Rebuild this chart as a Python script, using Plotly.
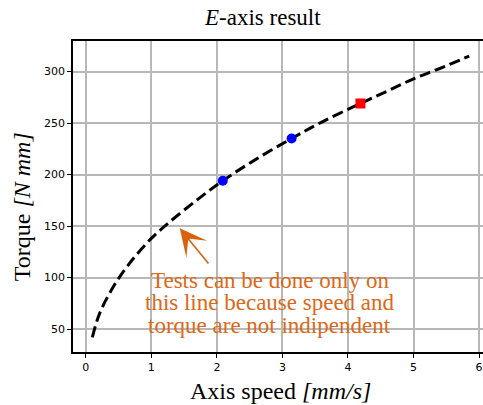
import plotly.graph_objects as go

# Curve (axis speed [mm/s] vs torque [N mm])
speed = [0.10, 0.21, 0.42, 0.67, 1.00, 1.28, 1.69, 2.09, 2.60, 3.14, 3.60, 4.19, 4.60, 5.00, 5.40, 5.85]
torque = [42, 65, 91, 114, 138, 154, 175, 194, 215, 235, 251, 269, 281, 293, 303, 315]

# Highlighted test points
blue_speed = [2.09, 3.14]
blue_torque = [194, 235]
red_speed = [4.19]
red_torque = [269]

x_ticks = [0, 1, 2, 3, 4, 5, 6]
y_ticks = [50, 100, 150, 200, 250, 300]

title_text = "<i>E</i>-axis result"
xlabel_text = "Axis speed <i>[mm/s]</i>"
ylabel_text = "Torque <i>[N mm]</i>"
note_lines = ["Tests can be done only on", "this line because speed and", "torque are not indipendent"]
note_x = 2.81
note_y = [97.5, 76, 53]
arrow_head = (1.434, 147.8)
arrow_tail = (1.89, 112.2)

ORANGE_TEXT = "#dc6818"
ORANGE_ARROW = "#d9620a"
SERIF = "Liberation Serif, Times New Roman, serif"

fig = go.Figure()
fig.add_trace(go.Scatter(x=speed, y=torque, mode="lines",
                         line=dict(color="black", width=3, dash="11px,5px", shape="spline"),
                         hoverinfo="skip", showlegend=False))
fig.add_trace(go.Scatter(x=blue_speed, y=blue_torque, mode="markers",
                         marker=dict(color="blue", size=10, symbol="circle"), showlegend=False))
fig.add_trace(go.Scatter(x=red_speed, y=red_torque, mode="markers",
                         marker=dict(color="red", size=10, symbol="square"), showlegend=False))

annotations = []
annotations.append(dict(text=title_text, xref="paper", yref="paper", x=0.461, y=1.074,
                        xanchor="center", yanchor="middle", showarrow=False,
                        font=dict(family=SERIF, size=23, color="black")))
annotations.append(dict(text=xlabel_text, xref="paper", yref="paper", x=0.507, y=-0.127,
                        xanchor="center", yanchor="middle", showarrow=False,
                        font=dict(family=SERIF, size=24, color="black")))
annotations.append(dict(text=ylabel_text, xref="paper", yref="paper", x=-0.124, y=0.466,
                        xanchor="center", yanchor="middle", showarrow=False, textangle=-90,
                        font=dict(family=SERIF, size=24, color="black")))
for line, yy in zip(note_lines, note_y):
    annotations.append(dict(text=line, x=note_x, y=yy, xref="x", yref="y",
                            xanchor="center", yanchor="middle", showarrow=False,
                            font=dict(family=SERIF, size=23, color=ORANGE_TEXT)))
annotations.append(dict(text="", x=arrow_head[0], y=arrow_head[1], ax=arrow_tail[0], ay=arrow_tail[1],
                        xref="x", yref="y", axref="x", ayref="y", showarrow=True,
                        arrowhead=3, arrowsize=2.8, arrowwidth=1.6, arrowcolor=ORANGE_ARROW))

fig.update_layout(
    width=483, height=405,
    margin=dict(l=73, r=0, t=41, b=53, pad=0),
    paper_bgcolor="white", plot_bgcolor="white",
    annotations=annotations,
    xaxis=dict(range=[-0.195, 6.06], tickvals=x_ticks, showgrid=True, gridcolor="#b8b8b8", gridwidth=1.8,
               showline=True, linecolor="black", linewidth=1.6, mirror=True,
               ticks="outside", ticklen=4, tickwidth=1.2, tickcolor="black",
               tickfont=dict(family="DejaVu Sans", size=11, color="black"), zeroline=False),
    yaxis=dict(range=[27.7, 329.7], tickvals=y_ticks, showgrid=True, gridcolor="#b8b8b8", gridwidth=1.8,
               showline=True, linecolor="black", linewidth=1.6, mirror=False,
               ticks="outside", ticklen=4, tickwidth=1.2, tickcolor="black",
               tickfont=dict(family="DejaVu Sans", size=11, color="black"), zeroline=False),
)

fig.write_html("out.html")
